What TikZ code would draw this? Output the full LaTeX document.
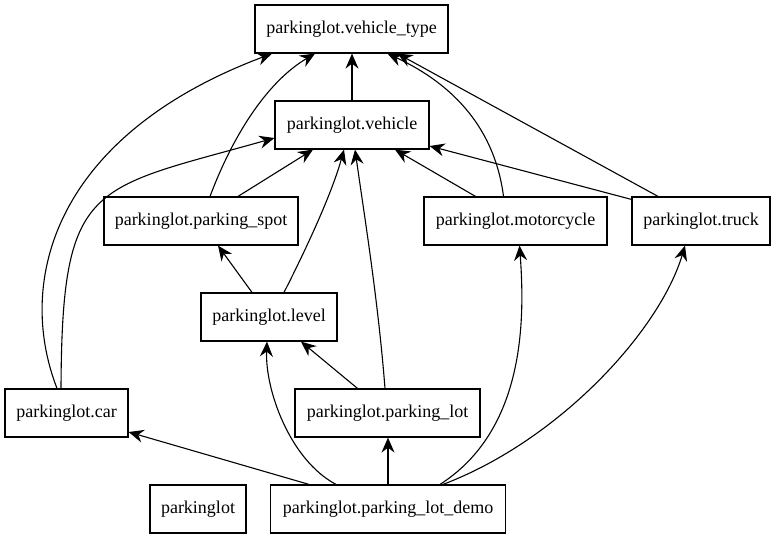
\documentclass[tikz,border=0pt]{standalone}
\usepackage{fontspec}
\setmainfont{Liberation Serif}
\usetikzlibrary{arrows.meta}
\begin{document}
\begin{tikzpicture}[x=1pt,y=-1pt,
  mod/.style={draw,line width=1.2pt,rectangle,minimum height=48pt,inner sep=0pt,
    font=\fontsize{18}{20}\selectfont},
  dep/.style={line width=1.1pt,-{Stealth[length=15pt,width=13pt,inset=5pt]}}]
\useasboundingbox (0,0) rectangle (776,539);
\node[mod,minimum width=193pt] (vt) at (351.5,29) {parkinglot.vehicle\_type};
\node[mod,minimum width=154pt] (veh) at (352,125) {parkinglot.vehicle};
\node[mod,minimum width=194pt] (ps) at (201,221) {parkinglot.parking\_spot};
\node[mod,minimum width=183pt] (mc) at (515.5,221) {parkinglot.motorcycle};
\node[mod,minimum width=138pt] (tr) at (701,221) {parkinglot.truck};
\node[mod,minimum width=136pt] (lv) at (269,317) {parkinglot.level};
\node[mod,minimum width=123pt] (car) at (66.5,413) {parkinglot.car};
\node[mod,minimum width=185pt] (pl) at (387.5,413) {parkinglot.parking\_lot};
\node[mod,minimum width=96pt] (pk) at (198,509) {parkinglot};
\node[mod,minimum width=235pt] (demo) at (388,509) {parkinglot.parking\_lot\_demo};

\draw[dep] (veh.north) -- (veh.north |- vt.south);
\draw[dep] ([xshift=9pt]ps.north) .. controls (235,130) and (270,80) .. ([xshift=-36.5pt]vt.south);
\draw[dep] ([xshift=-9.5pt]car.north) .. controls (15,280) and (55,135) .. ([xshift=-79.5pt]vt.south);
\draw[dep] ([xshift=-5.5pt]car.north) .. controls (62,180) and (90,190) .. ([yshift=-13pt]veh.west);
\draw[dep] ([xshift=37pt]ps.north) -- ([xshift=-39pt]veh.south);
\draw[dep] ([xshift=-17pt]lv.north) -- ([xshift=17pt]ps.south);
\draw[dep] ([xshift=15pt]lv.north) .. controls (298,265) and (330,200) .. ([xshift=-8pt]veh.south);
\draw[dep] ([xshift=-2.5pt]pl.north) .. controls (378,300) and (365,220) .. ([xshift=3pt]veh.south);
\draw[dep] ([xshift=-30pt]pl.north) -- ([xshift=32pt]lv.south);
\draw[dep] ([xshift=-40pt]mc.north) -- ([xshift=43pt]veh.south);
\draw[dep] ([xshift=-12pt]mc.north) .. controls (495,130) and (455,85) .. ([xshift=36pt]vt.south);
\draw[dep] ([xshift=-43pt]tr.north) -- ([xshift=46pt]vt.south);
\draw[dep] ([yshift=-3pt]tr.north west) -- ([yshift=-21pt]veh.east);
\draw[dep] ([xshift=-79pt]demo.north) -- ([yshift=-19pt]car.east);
\draw[dep] ([xshift=-52pt]demo.north) .. controls (290,460) and (265,390) .. ([xshift=-2pt]lv.south);
\draw[dep] (demo.north) -- (demo.north |- pl.south);
\draw[dep] ([xshift=52pt]demo.north) .. controls (525,430) and (525,320) .. ([xshift=4pt]mc.south);
\draw[dep] ([xshift=55pt]demo.north) .. controls (560,440) and (660,330) .. ([xshift=-16pt]tr.south);
\end{tikzpicture}
\end{document}
